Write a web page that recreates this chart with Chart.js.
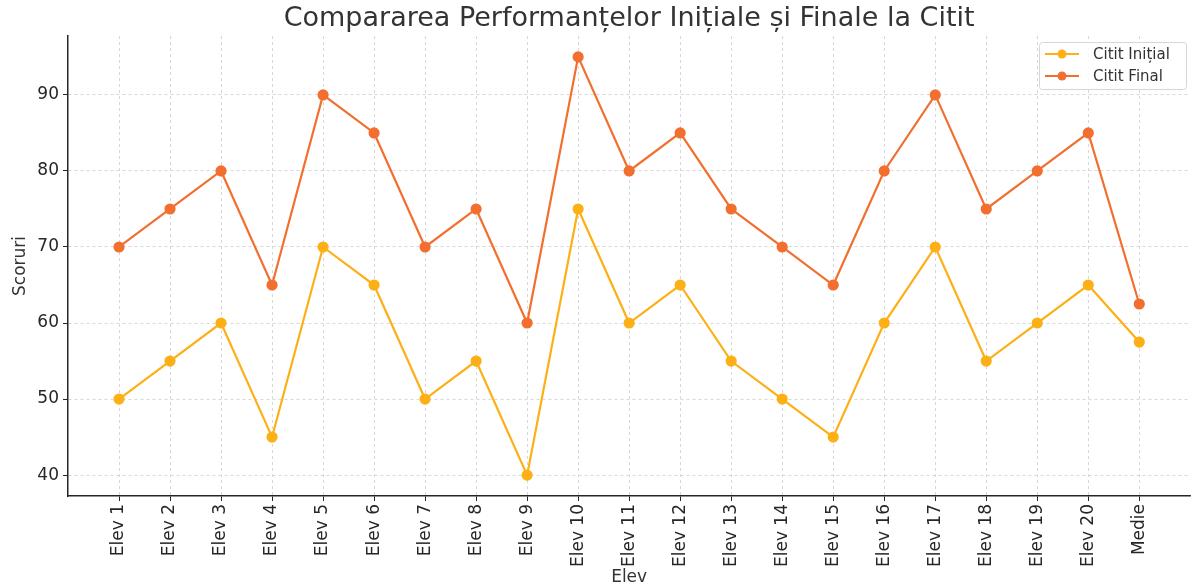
<!DOCTYPE html>
<html>
<head>
<meta charset="utf-8">
<script src="https://cdn.jsdelivr.net/npm/chart.js@4.4.0/dist/chart.umd.min.js"></script>
<style>
  html, body { margin: 0; padding: 0; background: #fff; overflow: hidden; }
  #wrap { width: 1197px; height: 586px; }
</style>
</head>
<body>
<div id="wrap"><canvas id="chart" width="1197" height="586"></canvas></div>
<script>
// categories and series
const elevi = ["Elev 1", "Elev 2", "Elev 3", "Elev 4", "Elev 5", "Elev 6", "Elev 7", "Elev 8", "Elev 9", "Elev 10",
               "Elev 11", "Elev 12", "Elev 13", "Elev 14", "Elev 15", "Elev 16", "Elev 17", "Elev 18", "Elev 19", "Elev 20", "Medie"];
const scoruriInitial = [50, 55, 60, 45, 70, 65, 50, 55, 40, 75, 60, 65, 55, 50, 45, 60, 70, 55, 60, 65, 57.5];
const scoruriFinal   = [70, 75, 80, 65, 90, 85, 70, 75, 60, 95, 80, 85, 75, 70, 65, 80, 90, 75, 80, 85, 62.5];
const yTicks = [40, 50, 60, 70, 80, 90];
const titlu = 'Compararea Performanțelor Inițiale și Finale la Citit';

const colInitial = '#fdb016';
const colFinal = '#f26f2f';
const axisColor = '#262626';
const gridColor = '#cfcfcf';
const fontFam = '"DejaVu Sans", sans-serif';

const toPoints = arr => arr.map((v, i) => ({ x: i, y: v }));

// title centred over the plot area, like matplotlib does
const plotTitle = {
    id: 'plotTitle',
    afterDraw(chart) {
        const ctx = chart.ctx;
        const a = chart.chartArea;
        ctx.save();
        ctx.font = '27px ' + fontFam;
        ctx.fillStyle = '#333';
        ctx.textAlign = 'center';
        ctx.textBaseline = 'middle';
        ctx.fillText(titlu, (a.left + a.right) / 2, 19);
        ctx.restore();
    }
};

// matplotlib-like legend box in the top right corner
const boxLegend = {
    id: 'boxLegend',
    afterDraw(chart) {
        const ctx = chart.ctx;
        const x0 = 1039, y0 = 42, w = 147, h = 47;
        ctx.save();
        ctx.fillStyle = 'rgba(255,255,255,0.85)';
        ctx.strokeStyle = '#d6d6d6';
        ctx.lineWidth = 1;
        ctx.beginPath();
        ctx.roundRect(x0 + 0.5, y0 + 0.5, w, h, 3);
        ctx.fill();
        ctx.stroke();
        ctx.font = '15px ' + fontFam;
        ctx.textBaseline = 'middle';
        chart.data.datasets.forEach((ds, i) => {
            const cy = y0 + 12 + i * 22;
            ctx.strokeStyle = ds.borderColor;
            ctx.lineWidth = 2.2;
            ctx.beginPath();
            ctx.moveTo(x0 + 6, cy);
            ctx.lineTo(x0 + 40, cy);
            ctx.stroke();
            ctx.fillStyle = ds.borderColor;
            ctx.beginPath();
            ctx.arc(x0 + 23, cy, 4.5, 0, Math.PI * 2);
            ctx.fill();
            ctx.fillStyle = '#333';
            ctx.fillText(ds.label, x0 + 54, cy + 1);
        });
        ctx.restore();
    }
};

new Chart(document.getElementById('chart').getContext('2d'), {
    type: 'line',
    data: {
        datasets: [
            { label: 'Citit Inițial', data: toPoints(scoruriInitial), borderColor: colInitial, backgroundColor: colInitial,
              borderWidth: 2.2, pointRadius: 4.5, pointHoverRadius: 4.5, tension: 0 },
            { label: 'Citit Final', data: toPoints(scoruriFinal), borderColor: colFinal, backgroundColor: colFinal,
              borderWidth: 2.2, pointRadius: 4.5, pointHoverRadius: 4.5, tension: 0 }
        ]
    },
    options: {
        responsive: false,
        animation: false,
        layout: { padding: { top: 36, left: 0, right: 0, bottom: 0 } },
        plugins: {
            legend: { display: false },
            tooltip: { enabled: false },
            title: { display: false }
        },
        scales: {
            x: {
                type: 'linear',
                min: -1,
                max: 21,
                afterFit: s => { s.height = 90; s.paddingLeft = 0; s.paddingRight = 0; },
                afterBuildTicks: s => { s.ticks = elevi.map((_, i) => ({ value: i })); },
                ticks: {
                    autoSkip: false,
                    minRotation: 90,
                    maxRotation: 90,
                    color: '#262626',
                    padding: 3,
                    font: { family: fontFam, size: 17 },
                    callback: v => elevi[v] ?? ''
                },
                grid: { color: gridColor, lineWidth: 0.8, tickColor: axisColor, tickLength: 5, tickWidth: 1 },
                border: { display: true, color: axisColor, width: 1.5, dash: [3, 3] },
                title: { display: true, text: 'Elev', color: '#333', font: { family: fontFam, size: 17 }, padding: { top: 0, bottom: -2 } }
            },
            y: {
                min: 37.25,
                max: 97.75,
                afterFit: s => { s.width = 68; s.paddingTop = 0; s.paddingBottom = 0; },
                afterBuildTicks: s => { s.ticks = yTicks.map(v => ({ value: v })); },
                ticks: {
                    color: '#262626',
                    padding: 4,
                    font: { family: fontFam, size: 17 }
                },
                grid: { color: gridColor, lineWidth: 0.8, tickColor: axisColor, tickLength: 5, tickWidth: 1 },
                border: { display: true, color: axisColor, width: 1.5, dash: [3, 3] },
                title: { display: true, text: 'Scoruri', color: '#333', font: { family: fontFam, size: 17 }, padding: { top: 10, bottom: 0 } }
            }
        }
    },
    plugins: [plotTitle, boxLegend]
});
</script>
</body>
</html>
